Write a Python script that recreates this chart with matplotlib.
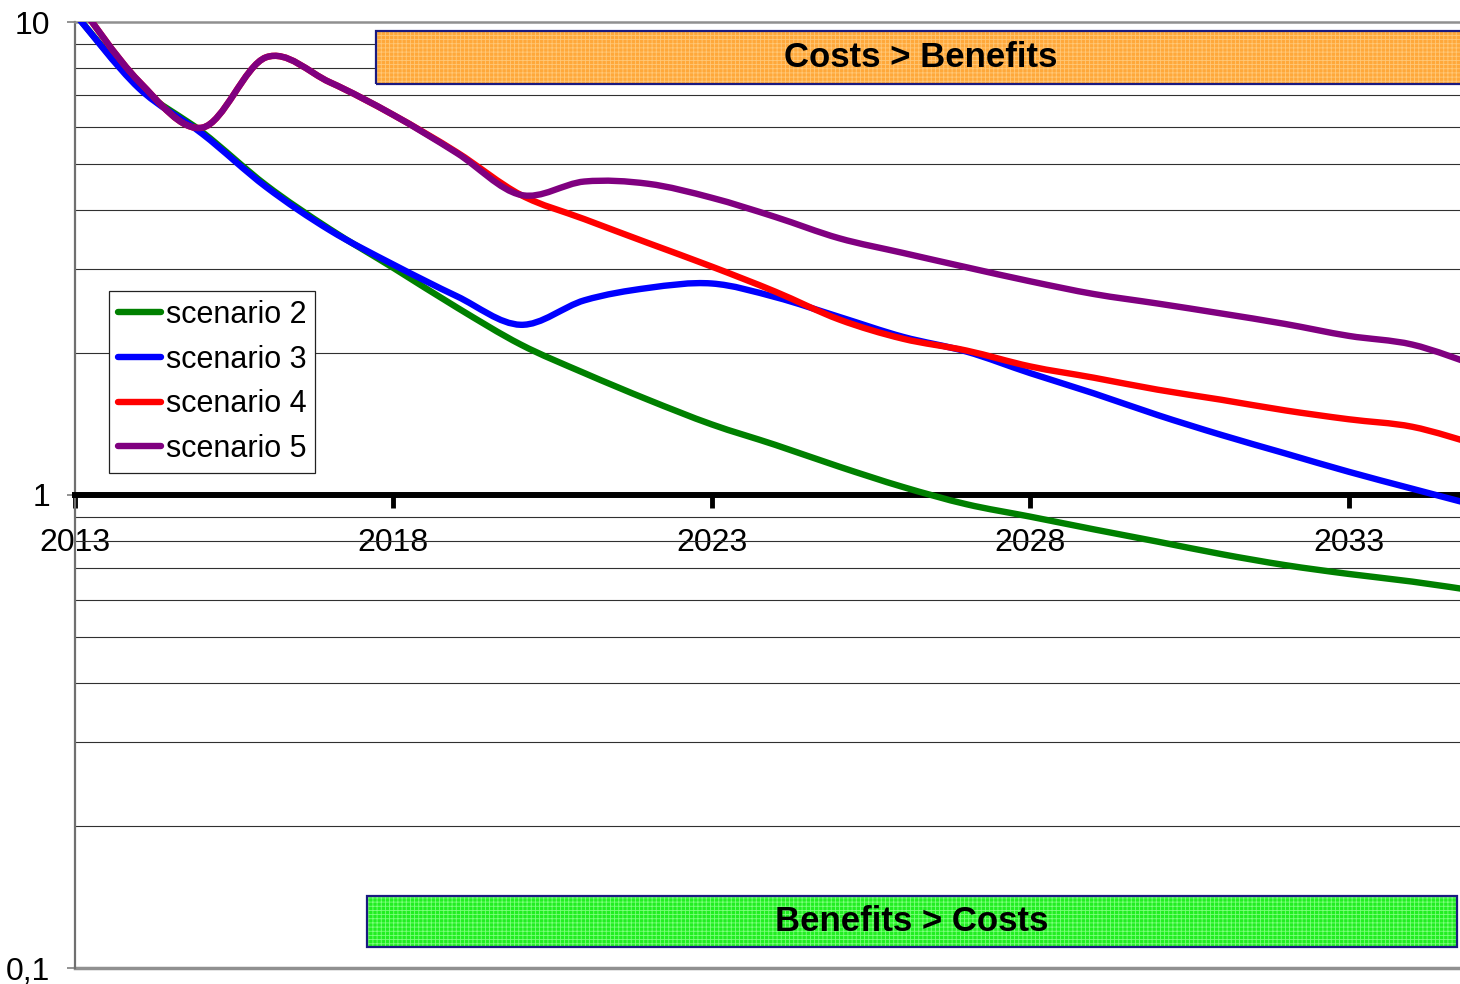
import matplotlib
matplotlib.use("Agg")
import matplotlib.pyplot as plt
import numpy as np
from matplotlib.path import Path
from matplotlib.patches import PathPatch, Rectangle
from matplotlib.lines import Line2D
from matplotlib.ticker import FixedLocator, FuncFormatter, LogLocator, NullFormatter

plt.rcParams['font.family'] = ['Liberation Sans', 'DejaVu Sans']
plt.rcParams['hatch.linewidth'] = 0.6

# data (one value per year)
years = list(range(2013, 2036))
scenario2 = [10.4, 7.3, 5.85, 4.52, 3.65, 3.02, 2.49, 2.08, 1.81, 1.59, 1.41, 1.276, 1.148,
             1.04, 0.956, 0.90, 0.846, 0.797, 0.750, 0.711, 0.681, 0.656, 0.627]
scenario3 = [10.4, 7.25, 5.8, 4.48, 3.63, 3.07, 2.63, 2.29, 2.58, 2.74, 2.80, 2.62, 2.38,
             2.16, 2.01, 1.81, 1.64, 1.476, 1.34, 1.225, 1.12, 1.031, 0.95]
scenario4 = [11.2, 7.5, 5.98, 8.42, 7.46, 6.36, 5.3, 4.31, 3.83, 3.41, 3.04, 2.69, 2.35,
             2.14, 2.02, 1.87, 1.77, 1.67, 1.59, 1.51, 1.446, 1.394, 1.28]
scenario5 = [11.2, 7.5, 5.98, 8.42, 7.46, 6.36, 5.28, 4.31, 4.6, 4.55, 4.25, 3.87, 3.49,
             3.25, 3.03, 2.83, 2.66, 2.54, 2.42, 2.30, 2.17, 2.08, 1.88]
labels = ['scenario 2', 'scenario 3', 'scenario 4', 'scenario 5']
colors = ['#008000', '#0000FF', '#FF0000', '#800080']
x_ticks = [2013, 2018, 2023, 2028, 2033]
y_ticks = [0.1, 1, 10]
y_tick_labels = {0.1: '0,1', 1: '1', 10: '10'}


# smoothed line like the spreadsheet "smooth line" option (bezier through the points)
def smooth_path(xs, ys):
    px = np.asarray(xs, float)
    py = np.log10(np.asarray(ys, float))
    n = len(px)
    verts = [(px[0], py[0])]
    codes = [Path.MOVETO]
    for i in range(n - 1):
        a = i - 1 if i > 0 else i
        b = i + 2 if i + 2 < n else i + 1
        c1 = (px[i] + (px[i + 1] - px[a]) / 6, py[i] + (py[i + 1] - py[a]) / 6)
        c2 = (px[i + 1] - (px[b] - px[i]) / 6, py[i + 1] - (py[b] - py[i]) / 6)
        verts += [c1, c2, (px[i + 1], py[i + 1])]
        codes += [Path.CURVE4] * 3
    v = np.array(verts)
    v[:, 1] = 10 ** v[:, 1]
    return Path(v, codes)


fig = plt.figure(figsize=(14.6, 9.84), dpi=100)
ax = fig.add_axes([75 / 1460, 16 / 984, 1385 / 1460, 946 / 984])
ax.set_yscale('log')
ax.set_xlim(2013, 2034.75)
ax.set_ylim(0.1, 10)

lw = 4.6
for vals, col in zip([scenario2, scenario3, scenario4, scenario5], colors):
    patch = PathPatch(smooth_path(years, vals), fill=False, edgecolor=col, lw=lw,
                      capstyle='round', joinstyle='round', zorder=3)
    ax.add_patch(patch)

# grid
ax.yaxis.set_major_locator(FixedLocator(y_ticks))
ax.yaxis.set_major_formatter(FuncFormatter(lambda v, _: y_tick_labels.get(round(v, 3), '')))
ax.yaxis.set_minor_locator(LogLocator(base=10, subs=np.arange(2, 10)))
ax.yaxis.set_minor_formatter(NullFormatter())
ax.grid(which='minor', axis='y', color='#303030', lw=0.8)
ax.tick_params(axis='y', which='minor', length=0)
ax.tick_params(axis='y', which='major', direction='out', length=6, width=1.2,
               color='#808080', labelsize=23, pad=12)

# x axis sits at y = 1
ax.spines['bottom'].set_position(('data', 1))
ax.spines['bottom'].set_linewidth(4.3)
ax.spines['bottom'].set_color('black')
ax.spines['bottom'].set_zorder(2.6)
ax.spines['right'].set_visible(False)
ax.spines['top'].set_color('#909090')
ax.spines['top'].set_linewidth(1.8)
ax.spines['left'].set_color('#707070')
ax.spines['left'].set_linewidth(1.6)
ax.axhline(0.1, color='#909090', lw=2.5, clip_on=False)
ax.xaxis.set_major_locator(FixedLocator(x_ticks))
ax.xaxis.set_major_formatter(FuncFormatter(lambda v, _: f'{int(v)}'))
ax.tick_params(axis='x', direction='out', length=9, width=3.5, color='black',
               labelsize=23, pad=15)

# legend
handles = [Line2D([0], [0], color=c, lw=lw, solid_capstyle='round') for c in colors]
leg = ax.legend(handles, labels, loc='upper left', bbox_to_anchor=(109 / 1460, 1 - 291 / 984),
                bbox_transform=fig.transFigure, borderaxespad=0, fontsize=22,
                fancybox=False, framealpha=1, edgecolor='#222222', borderpad=0.3,
                handlelength=1.4, handletextpad=0.15, labelspacing=0.48)
leg.get_frame().set_linewidth(0.9)

# the two annotation bands
bands = [
    (376, 31, 1466, 84, '#FFA83A', '#FFC878', 'Costs > Benefits', 921),
    (367, 896, 1457, 947, '#22EE22', '#7CFF7C', 'Benefits > Costs', 912),
]
for x0, y0, x1, y1, fill, hatchcol, txt, tx in bands:
    fx0, fx1 = x0 / 1460, x1 / 1460
    fy0, fy1 = 1 - y1 / 984, 1 - y0 / 984
    r = Rectangle((fx0, fy0), fx1 - fx0, fy1 - fy0, transform=fig.transFigure,
                  facecolor=fill, edgecolor=hatchcol, hatch='++++', lw=0)
    fig.add_artist(r)
    rb = Rectangle((fx0, fy0), fx1 - fx0, fy1 - fy0, transform=fig.transFigure,
                   fill=False, edgecolor='#1A1A80', lw=1.6)
    fig.add_artist(rb)
    fig.text(tx / 1460, (fy0 + fy1) / 2, txt, ha='center', va='center',
             fontsize=25, fontweight='bold', color='black')

fig.savefig('out.png', dpi=100)
